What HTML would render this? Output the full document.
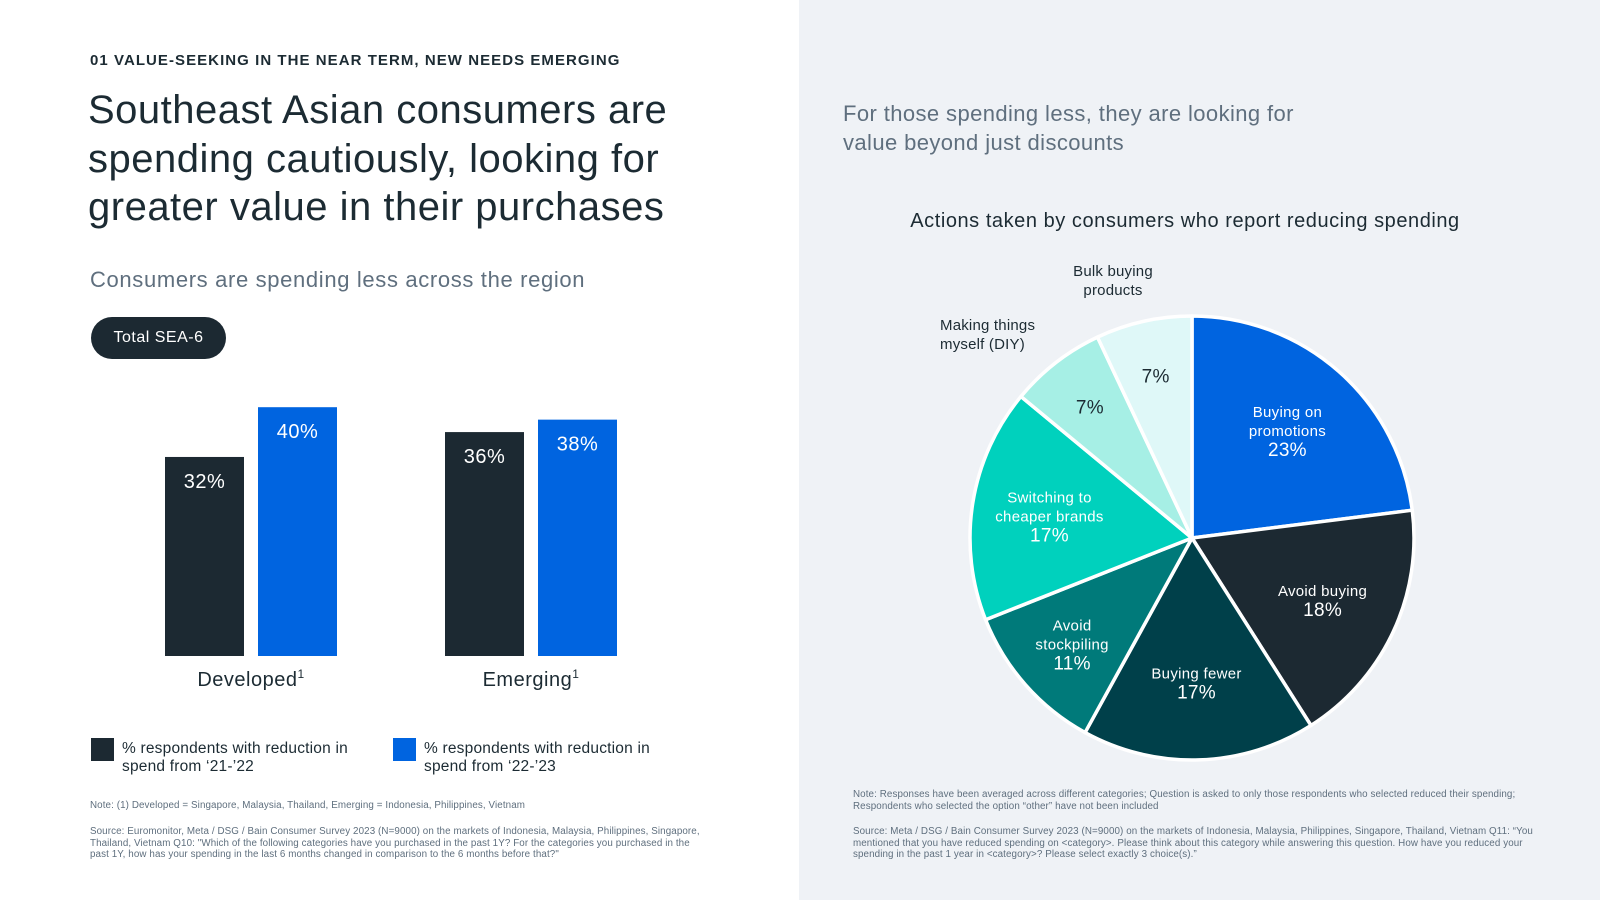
<!DOCTYPE html>
<html><head><meta charset="utf-8"><style>
*{margin:0;padding:0;box-sizing:border-box}
body{width:1600px;height:900px;position:relative;font-family:"Liberation Sans",sans-serif;background:#fff;overflow:hidden;color:#1c2b33}
.abs{position:absolute}
#right{left:799px;top:0;width:801px;height:900px;background:#eff2f6}
.small{font-size:9.8px;color:#5f6f7e;line-height:11.7px;letter-spacing:0.1px}
</style></head><body>
<div class="abs" style="left:90px;top:52px;font-size:15px;font-weight:bold;letter-spacing:1.05px">01 VALUE-SEEKING IN THE NEAR TERM, NEW NEEDS EMERGING</div>
<div class="abs" style="left:88px;top:86px;font-size:40px;line-height:48.5px;width:640px;letter-spacing:0.5px">Southeast Asian consumers are spending cautiously, looking for greater value in their purchases</div>
<div class="abs" style="left:90px;top:267px;font-size:22px;color:#5f6f7e;letter-spacing:0.65px">Consumers are spending less across the region</div>
<div class="abs" style="left:91px;top:317px;width:135px;height:42px;border-radius:21px;background:#1c2932;color:#fff;font-size:16px;line-height:42px;text-align:center;letter-spacing:0.5px">Total SEA-6</div>
<svg class="abs" id="bars" style="left:0;top:0" width="799" height="720"></svg>
<div class="abs" style="left:91px;top:738px">
<div style="position:absolute;left:0;top:0;width:23px;height:23px;background:#1c2932"></div>
<div style="position:absolute;left:31px;top:2px;width:270px;font-size:15.5px;line-height:18px;letter-spacing:0.2px">% respondents with reduction in spend from ‘21-’22</div></div>
<div class="abs" style="left:393px;top:738px">
<div style="position:absolute;left:0;top:0;width:23px;height:23px;background:#0064e0"></div>
<div style="position:absolute;left:31px;top:2px;width:270px;font-size:15.5px;line-height:18px;letter-spacing:0.2px">% respondents with reduction in spend from ‘22-’23</div></div>
<div class="abs small" style="left:90px;top:800px">Note: (1) Developed = Singapore, Malaysia, Thailand, Emerging = Indonesia, Philippines, Vietnam</div>
<div class="abs small" style="left:90px;top:826px;width:620px">Source: Euromonitor, Meta / DSG / Bain Consumer Survey 2023 (N=9000) on the markets of Indonesia, Malaysia, Philippines, Singapore, Thailand, Vietnam Q10: "Which of the following categories have you purchased in the past 1Y? For the categories you purchased in the past 1Y, how has your spending in the last 6 months changed in comparison to the 6 months before that?"</div>
<div class="abs" id="right"></div>
<div class="abs" style="left:843px;top:99px;font-size:22px;line-height:29px;color:#5f6f7e;width:500px;letter-spacing:0.4px">For those spending less, they are looking for value beyond just discounts</div>
<div class="abs" style="left:835px;top:210px;width:700px;text-align:center;font-size:20px;letter-spacing:0.55px">Actions taken by consumers who report reducing spending</div>
<div class="abs" style="left:1053px;top:262px;width:120px;text-align:center;font-size:15px;line-height:19px;letter-spacing:0.2px">Bulk buying products</div>
<div class="abs" style="left:940px;top:316px;width:130px;font-size:15px;line-height:19px;letter-spacing:0.2px">Making things myself (DIY)</div>
<svg class="abs" id="pie" style="left:799px;top:0" width="801" height="780"></svg>
<div class="abs small" style="left:853px;top:789px;width:680px">Note: Responses have been averaged across different categories; Question is asked to only those respondents who selected reduced their spending; Respondents who selected the option “other” have not been included</div>
<div class="abs small" style="left:853px;top:826px;width:710px">Source: Meta / DSG / Bain Consumer Survey 2023 (N=9000) on the markets of Indonesia, Malaysia, Philippines, Singapore, Thailand, Vietnam Q11: “You mentioned that you have reduced spending on &lt;category&gt;. Please think about this category while answering this question. How have you reduced your spending in the past 1 year in &lt;category&gt;? Please select exactly 3 choice(s).”</div>
<script>
const groups=["Developed","Emerging"];
const series2122=[32,36];
const series2223=[40,38];
const pieLabels=["Buying on\npromotions","Avoid buying","Buying fewer","Avoid\nstockpiling","Switching to\ncheaper brands","",""];
const pieValues=[23,18,17,11,17,7,7];
const NS="http://www.w3.org/2000/svg";
function mk(p,t,a){const e=document.createElementNS(NS,t);for(const k in a)e.setAttribute(k,a[k]);p.appendChild(e);return e;}
const bars=document.getElementById('bars');
const base=656,perPct=6.22;
const y=v=>base-v*perPct;
const groupX=[165,445],bw=79,gap=14;
groups.forEach((g,i)=>{
 [[series2122,'#1c2932'],[series2223,'#0064e0']].forEach(([s,c],j)=>{
  const x=groupX[i]+j*(bw+gap);
  const r=mk(bars,'rect',{x:x,y:y(s[i]),width:bw,height:base-y(s[i]),fill:c});
  
  
  const t=mk(bars,'text',{x:x+bw/2,y:y(s[i])+31,'text-anchor':'middle','font-size':20,fill:'#fff','letter-spacing':0.5});
  t.textContent=s[i]+'%';
  
  
 });
 const cx=groupX[i]+bw+gap/2;
 const t=mk(bars,'text',{x:cx,y:686,'text-anchor':'middle','font-size':20,fill:'#1c2b33','letter-spacing':0.5});
 t.innerHTML=g+'<tspan font-size="12" dy="-8">1</tspan>';
 
 
});
const pie=document.getElementById('pie');
const cx=393,cy=538,R=222;
const colors=['#0064e0','#1c2932','#00404a','#007a7a','#00d1bd','#a6efe5','#dff8f8'];
const textCol=['#fff','#fff','#fff','#fff','#fff','#1c2b33','#1c2b33'];
const total=pieValues.reduce((a,b)=>a+b,0);
let acc=0;
pieValues.forEach((v,i)=>{
 const a0=acc/total*2*Math.PI,a1=(acc+v)/total*2*Math.PI;acc+=v;
 const p=a=>[cx+R*Math.sin(a),cy-R*Math.cos(a)];
 const [x0,y0]=p(a0),[x1,y1]=p(a1);
 const path=mk(pie,'path',{d:`M${cx},${cy}L${x0},${y0}A${R},${R} 0 ${a1-a0>Math.PI?1:0} 1 ${x1},${y1}Z`,fill:colors[i],stroke:'#fff','stroke-width':3.5,'stroke-linejoin':'round'});
 
 
 const am=(a0+a1)/2,lr=v/total<0.1?0.75*R:(v/total<0.15?0.72*R:0.65*R);
 const lx=cx+lr*Math.sin(am),ly=cy-lr*Math.cos(am);
 const lines=pieLabels[i]?pieLabels[i].split('\n'):[];
 const all=lines.length+1,lh=19;
 const t=mk(pie,'text',{'text-anchor':'middle',fill:textCol[i],'letter-spacing':0.3});
 
 
 lines.forEach((l,k)=>{const s=mk(t,'tspan',{x:lx,y:ly-(all-1)*lh/2+k*lh+6,'font-size':15});s.textContent=l;});
 const s=mk(t,'tspan',{x:lx,y:ly-(all-1)*lh/2+lines.length*lh+7,'font-size':19});s.textContent=v+'%';
});
</script>
</body></html>
